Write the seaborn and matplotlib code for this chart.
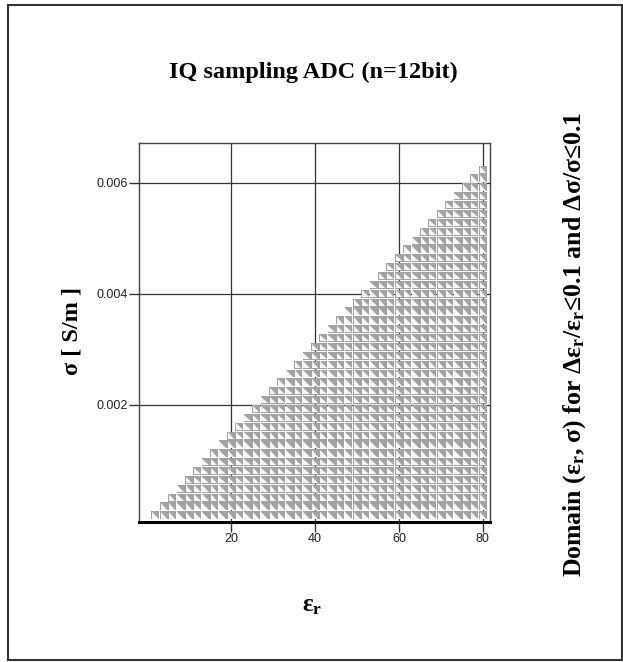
import numpy as np
import pandas as pd
import matplotlib
matplotlib.use("Agg")
import matplotlib.pyplot as plt
import seaborn as sns
from matplotlib.patches import Rectangle

# sampling grid of the domain (eps_r columns, sigma rows)
eps_r = [2, 4, 6, 8, 10, 12, 14, 16, 18, 20, 22, 24, 26, 28, 30, 32, 34, 36, 38, 40,
         42, 44, 46, 48, 50, 52, 54, 56, 58, 60, 62, 64, 66, 68, 70, 72, 74, 76, 78, 80]
sigma_levels = [0.0, 0.00016, 0.00032, 0.00048, 0.00064, 0.0008, 0.00096, 0.00112,
                0.00128, 0.00144, 0.0016, 0.00176, 0.00192, 0.00208, 0.00224, 0.0024,
                0.00256, 0.00272, 0.00288, 0.00304, 0.0032, 0.00336, 0.00352, 0.00368,
                0.00384, 0.004, 0.00416, 0.00432, 0.00448, 0.00464, 0.0048, 0.00496,
                0.00512, 0.00528, 0.00544, 0.0056, 0.00576, 0.00592, 0.00608, 0.00624]
# number of valid sigma rows in each eps_r column
rows_valid = [1, 2, 3, 4, 5, 6, 7, 8, 9, 10, 11, 12, 13, 14, 15, 16, 17, 18, 19, 20,
              21, 22, 23, 24, 25, 26, 27, 28, 29, 30, 31, 32, 33, 34, 35, 36, 37, 38, 39, 40]

x_ticks = [20, 40, 60, 80]
y_ticks = [0.002, 0.004, 0.006]

pts = []
for e, n in zip(eps_r, rows_valid):
    for s in sigma_levels[:n]:
        pts.append((e, s))
df = pd.DataFrame(pts, columns=["eps_r", "sigma"])

sns.set_theme(style="white")
plt.rcParams["font.family"] = ["Liberation Serif", "DejaVu Serif"]
plt.rcParams["text.color"] = "black"
plt.rcParams["mathtext.fontset"] = "custom"
plt.rcParams["mathtext.rm"] = "Liberation Serif:bold"
plt.rcParams["mathtext.it"] = "Liberation Serif:bold"
plt.rcParams["mathtext.bf"] = "Liberation Serif:bold"

fig = plt.figure(figsize=(6.23, 6.62), dpi=100)
fig.patch.set_facecolor("white")
ax = fig.add_axes([0.2231, 0.2115, 0.5634, 0.5725])

ax.set_axisbelow(True)
ax.grid(True, color="#333333", linewidth=0.9)

sns.scatterplot(data=df, x="eps_r", y="sigma", marker="s", s=33, color="#a2a2a2",
                linewidth=0, edgecolor="none", ax=ax, zorder=3)
tri = [(-1, 1), (-1, -1), (1, -1)]
sns.scatterplot(data=df, x="eps_r", y="sigma", marker=tri, s=22, color="#f6f6f6",
                linewidth=0, edgecolor="none", ax=ax, zorder=4)

ax.set_xlim(-1.9, 81.7)
ax.set_ylim(-0.00012, 0.00672)
ax.set_xticks(x_ticks)
ax.set_yticks(y_ticks)
ax.set_xticklabels([str(t) for t in x_ticks])
ax.set_yticklabels([f"{t:.3f}" for t in y_ticks])
ax.tick_params(axis="both", direction="out", length=7, width=1, color="#333333",
               labelsize=9, labelcolor="#222222", pad=1, bottom=True, left=True)
for lab in ax.get_xticklabels() + ax.get_yticklabels():
    lab.set_family("Liberation Sans")
ax.set_xlabel("")
ax.set_ylabel("")

for side in ["left", "top", "right"]:
    ax.spines[side].set_color("#444444")
    ax.spines[side].set_linewidth(1.0)
ax.spines["bottom"].set_color("black")
ax.spines["bottom"].set_linewidth(2.2)

fig.text(0.503, 0.89, "IQ sampling ADC (n=12bit)", ha="center", va="center",
         fontsize=17.5, fontweight="bold")
fig.text(0.116, 0.50, "σ [ S/m ]", ha="center", va="center", rotation=90,
         fontsize=17.5, fontweight="bold")
fig.text(0.501, 0.086, r"ε$_\mathregular{r}$", ha="center", va="center",
         fontsize=18, fontweight="bold")
fig.text(0.923, 0.479,
         r"Domain (ε$_\mathregular{r}$, σ) for Δε$_\mathregular{r}$/ε$_\mathregular{r}$≤0.1 and Δσ/σ≤0.1",
         ha="center", va="center", rotation=90, fontsize=18.5, fontweight="bold")

fig.patches.append(Rectangle((8 / 623, 2 / 662), 614 / 623, 655 / 662,
                             transform=fig.transFigure, fill=False,
                             edgecolor="#333333", linewidth=1.5))

fig.savefig("out.png", dpi=100)
